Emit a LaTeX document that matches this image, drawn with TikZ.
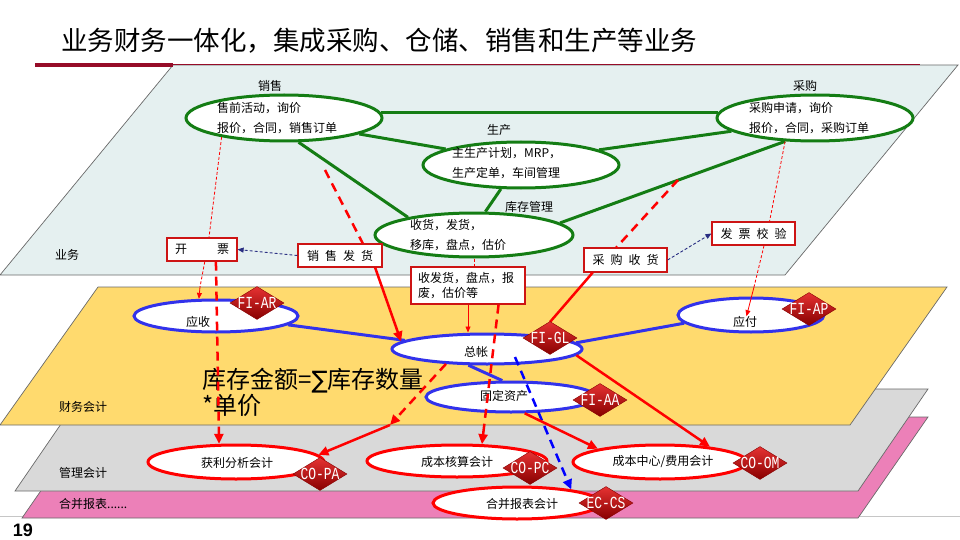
\documentclass[tikz,border=0pt]{standalone}
\usepackage{fontspec}
\usepackage{graphicx}
\setmainfont{Noto Sans CJK SC}
\newfontfamily\monof{Liberation Mono}
\newfontfamily\numf{Liberation Sans}
\newfontfamily\symf{DejaVu Sans}
\usetikzlibrary{shapes.geometric,arrows.meta,calc,shadings}
\definecolor{bizfill}{RGB}{229,240,240}
\definecolor{finfill}{RGB}{255,218,110}
\definecolor{mgmfill}{RGB}{217,217,217}
\definecolor{conpink}{RGB}{236,128,184}
\definecolor{edgegray}{RGB}{105,105,105}
\definecolor{titlered}{RGB}{150,12,40}
\definecolor{grn}{RGB}{20,125,20}
\definecolor{blu}{RGB}{50,50,235}
\definecolor{boxred}{RGB}{205,20,20}
\definecolor{navy}{RGB}{40,45,130}
\definecolor{diatop}{RGB}{230,50,50}
\definecolor{diamid}{RGB}{195,10,10}
\definecolor{diabot}{RGB}{135,0,0}
\begin{document}
\begin{tikzpicture}[x=1pt,y=-1pt,
  layer/.style={draw=edgegray, line width=0.7pt},
  bell/.style={ellipse, draw=grn, line width=3pt, fill=white, inner sep=0pt},
  fell/.style={ellipse, draw=blu, line width=3pt, fill=white, inner sep=0pt},
  mell/.style={ellipse, draw=red, line width=3pt, fill=white, inner sep=0pt},
  txt/.style={inner sep=0pt, font=\fontsize{12}{14}\selectfont},
  etxt/.style={inner sep=0pt, anchor=west, align=left, font=\fontsize{12}{20}\selectfont},
  rbox/.style={draw=boxred, line width=1.2pt, fill=white, inner sep=0pt, minimum height=23pt, font=\fontsize{12}{14}\selectfont},
  dia/.style={diamond, inner sep=0pt, minimum width=54pt, minimum height=33pt, top color=diatop, middle color=diamid, bottom color=diabot, draw=diabot, line width=0.4pt},
  diat/.style={inner sep=0pt, text=white, font=\monof\fontsize{13}{14}\selectfont},
  gline/.style={draw=grn, line width=3pt},
  bline/.style={draw=blu, line width=3pt},
  rsolid/.style={draw=red, line width=2.5pt},
  rdash/.style={draw=red, line width=2.5pt, dash pattern=on 9pt off 6pt},
  bdash/.style={draw=blue, line width=2.5pt, dash pattern=on 9pt off 6pt},
  tdash/.style={draw=red, line width=0.8pt, dash pattern=on 3pt off 2pt},
  tsolid/.style={draw=red, line width=0.8pt},
  ndash/.style={draw=navy, line width=0.9pt, dash pattern=on 3pt off 2pt},
  bigtip/.style={-{Triangle[length=10pt,width=9pt]}},
  smalltip/.style={-{Triangle[length=6pt,width=5pt]}}
]
\useasboundingbox (0,0) rectangle (960,540);

% footer line
\draw[gray!45, line width=0.8pt] (0,516) -- (960,516);

% layers
\filldraw[layer, fill=conpink] (92,417) -- (928,417) -- (858,518) -- (22,518) -- cycle;
\filldraw[layer, fill=mgmfill] (85,389) -- (928,389) -- (858,491) -- (15,491) -- cycle;
\filldraw[layer, fill=finfill] (98,287) -- (947,287) -- (850,425) -- (0,425) -- cycle;
\filldraw[layer, fill=bizfill] (173,65) -- (958,65) -- (785,275) -- (0,275) -- cycle;

% title and rule
\node[anchor=west, inner sep=0pt, font=\fontsize{26.5}{30}\selectfont] (title) at (61,41) {业务财务一体化，集成采购、仓储、销售和生产等业务};
\draw[titlered, line width=1.5pt] (172,64.5) -- (920,64.5);
\draw[titlered, line width=3.5pt] (35,65) -- (173,65);

% layer labels
\node[txt, anchor=west] (l-biz) at (55,255) {业务};
\node[txt, anchor=west] (l-fin) at (59,407) {财务会计};
\node[txt, anchor=west] (l-mgm) at (59,473) {管理会计};
\node[txt, anchor=west] (l-con) at (59,504) {合并报表......};

% business ellipses
\node[bell, minimum width=196pt, minimum height=46pt] (sales) at (284,118) {};
\node[bell, minimum width=196pt, minimum height=46pt] (pur) at (815,118) {};
\node[bell, minimum width=196pt, minimum height=46pt] (prod) at (521,165) {};
\node[bell, minimum width=198pt, minimum height=44pt] (inv) at (474,235) {};

% green connectors
\draw[gline] (sales.3) -- (pur.177);
\draw[gline] (sales.-12.2) -- (prod.168.4);
\draw[gline] (sales.-59.7) -- (inv.165.8);
\draw[gline] (prod.11.5) -- (pur.-171.3);
\draw[gline] (prod.230.4) -- (inv.64.4);
\draw[gline] (inv.8.6) -- (pur.218.7);

% business texts
\node[txt] (h-sales) at (270,86) {销售};
\node[txt] (h-pur) at (805,86) {采购};
\node[txt] (h-prod) at (499,130) {生产};
\node[txt] (h-inv) at (529,207) {库存管理};
\node[etxt] (t-sales) at (217,118) {售前活动，询价\\报价，合同，销售订单};
\node[etxt] (t-pur) at (749,118) {采购申请，询价\\报价，合同，采购订单};
\node[etxt] (t-prod) at (452,163) {主生产计划，MRP，\\生产定单，车间管理};
\node[etxt] (t-inv) at (410,235) {收货，发货，\\移库，盘点，估价};

% finance ellipses
\node[fell, minimum width=164pt, minimum height=32pt] (ar) at (216,316) {};
\node[fell, minimum width=190pt, minimum height=30pt] (zz) at (487,349) {};
\node[fell, minimum width=170pt, minimum height=30pt] (fa) at (511,397) {};
\node[fell, minimum width=146pt, minimum height=34pt] (ap) at (751,315) {};
\draw[bline] (ar.-7.2) -- (zz.174.7);
\draw[bline] (zz.4.4) -- (ap.-173.6);
\draw[bline] (zz.-139) -- (fa.118);
\node[txt] (tar) at (198,322) {应收};
\node[txt] (tzz) at (476,352) {总帐};
\node[txt] (tfa) at (504,396) {固定资产};
\node[txt] (tap) at (745,322) {应付};

% management / consolidation ellipses
\node[mell, minimum width=176pt, minimum height=34pt] (pa) at (236,462) {};
\node[mell, minimum width=180pt, minimum height=32pt] (pc) at (457,461) {};
\node[mell, minimum width=174pt, minimum height=34pt] (om) at (660,462) {};
\node[mell, minimum width=168pt, minimum height=32pt] (cs) at (517,503) {};
\node[txt] (tpa) at (237,463) {获利分析会计};
\node[txt] (tpc) at (457,462) {成本核算会计};
\node[txt] (tom) at (663,462) {成本中心/费用会计};
\node[txt] (tcs) at (522,504) {合并报表会计};

% formula
\node[anchor=north west, inner sep=0pt, align=left, font=\fontsize{24}{26}\selectfont] (formula) at (202,368) {库存金额={\symf ∑}库存数量\\*单价};

% red boxes
\node[rbox, minimum width=70pt] (kp) at (202,249.5) {开\hspace{30pt}票};
\node[rbox, minimum width=84pt] (xsfh) at (340,255.5) {销\hspace{6pt}售\hspace{6pt}发\hspace{6pt}货};
\node[rbox, minimum width=83pt, minimum height=24pt] (cgsh) at (625.5,260) {采\hspace{6pt}购\hspace{6pt}收\hspace{6pt}货};
\node[rbox, minimum width=83pt] (fpjy) at (753.5,233.5) {发\hspace{6pt}票\hspace{6pt}校\hspace{6pt}验};
\node[rbox, minimum width=114pt, minimum height=37pt, align=left, text width=100pt, font=\fontsize{12}{14.5}\selectfont] (sfh) at (468,285.5) {收发货，盘点，报\\废，估价等};

% thin connectors
\draw[ndash, smalltip] (xsfh.west) -- (kp.east);
\draw[ndash, smalltip] (cgsh.east) -- (fpjy.west);
\draw[tdash] (sales.-163) -- (kp.60);
\coordinate (kp1) at (200,287);
\draw[tdash] (kp.-77) -- (kp1);
\draw[tsolid, smalltip] (kp1) -- (ar.135);
\draw[tdash] (pur.-142) -- (fpjy.37);
\coordinate (fp1) at (754,287);
\draw[tdash] (fpjy.-49) -- (fp1);
\draw[tsolid, smalltip] (fp1) -- (tap);
\draw[tdash] (inv.south) -- (inv.south |- sfh.north);
\draw[tsolid, smalltip] (sfh.south) -- (sfh.south |- zz.north);

% thick cross-layer connectors
\coordinate (sd0) at (325,170);
\draw[rdash] (sd0) -- (xsfh.28.7);
\draw[rsolid, bigtip] (xsfh.-19.5) -- (zz.175);
\coordinate (cg0) at (678,180);
\draw[rdash] (cg0) -- (cgsh.126.3);
\draw[rsolid] (cgsh.201.5) -- (550,322);
\draw[rdash, bigtip] (kp.-41.5) -- (pa.133);
\coordinate (zp1) at (390,425);
\draw[rdash, bigtip] (zz.-160.3) -- (zp1);
\draw[rsolid, bigtip] (zp1) -- (pa.5.2);
\coordinate (m1) at (484,427);
\draw[rdash] (sfh.-32.5) -- (m1);
\draw[rsolid, bigtip] (m1) -- (pc.34);
\coordinate (b0) at (515,357);
\draw[bdash, bigtip] (b0) -- (cs.14);
\draw[rsolid, bigtip] (zz.-4) -- (om.17.7);
\draw[rsolid, bigtip] (fa.-50.5) -- (om.168);

% module diamonds
\node[dia] (fiar) at (257,303) {};
\node[diat] (fiar-t) at (fiar) {\scalebox{1}[1.3]{FI-AR}};
\node[dia] (figl) at (550,338) {};
\node[diat] (figl-t) at (figl) {\scalebox{1}[1.3]{FI-GL}};
\node[dia] (fiap) at (809,309) {};
\node[diat] (fiap-t) at (fiap) {\scalebox{1}[1.3]{FI-AP}};
\node[dia] (fiaa) at (600,400) {};
\node[diat] (fiaa-t) at (fiaa) {\scalebox{1}[1.3]{FI-AA}};
\node[dia] (copa) at (320,474) {};
\node[diat] (copa-t) at (copa) {\scalebox{1}[1.3]{CO-PA}};
\node[dia] (copc) at (530,468) {};
\node[diat] (copc-t) at (copc) {\scalebox{1}[1.3]{CO-PC}};
\node[dia] (coom) at (760,463) {};
\node[diat] (coom-t) at (coom) {\scalebox{1}[1.3]{CO-OM}};
\node[dia] (eccs) at (606,503) {};
\node[diat] (eccs-t) at (eccs) {\scalebox{1}[1.3]{EC-CS}};

% page number
\node[inner sep=0pt, font=\numf\bfseries\fontsize{18}{20}\selectfont] (pg) at (23,530) {19};
\end{tikzpicture}
\end{document}
